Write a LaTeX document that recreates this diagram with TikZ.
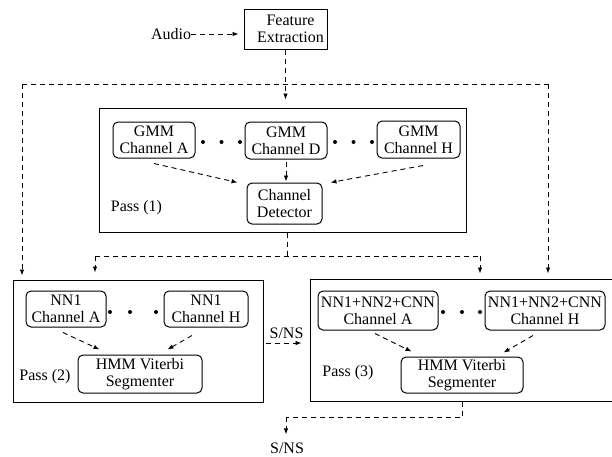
\documentclass[tikz,border=0pt]{standalone}
\usepackage{fontspec}
\setmainfont{Liberation Serif}
\usetikzlibrary{arrows.meta}
\begin{document}
\begin{tikzpicture}[x=1pt,y=-1pt,
  font=\fontsize{16}{17}\selectfont,
  every node/.style={inner sep=0pt, align=center},
  sq/.style={draw, line width=1pt},
  pass/.style={draw, line width=1pt},
  rbox/.style={draw, line width=1pt, rounded corners=5pt},
  dsh/.style={line width=0.9pt, dash pattern=on 5pt off 4pt},
  arr/.style={dsh, -{Latex[length=6pt,width=4.5pt]}},
  dotmark/.style={circle, fill, minimum size=4pt}]
\useasboundingbox (0,0) rectangle (612,456);

% feature extraction stage
\node[sq, minimum width=83pt, minimum height=40pt] (feat) at (285.5,29)
  {\hspace*{10pt}Feature\\\hspace*{10pt}Extraction};
\node (audio) at (171,34) {Audio};

% pass 1: channel detection
\node[pass, minimum width=367pt, minimum height=124pt] (pass1) at (282.5,170) {};
\node[rbox, minimum width=82pt, minimum height=36pt] (gA) at (154,140) {GMM\\Channel A};
\node[rbox, minimum width=82pt, minimum height=37pt] (gD) at (286,140.5) {GMM\\Channel D};
\node[rbox, minimum width=83pt, minimum height=37pt] (gH) at (418.5,139.5) {GMM\\Channel H};
\node[rbox, minimum width=75pt, minimum height=41pt] (det) at (284.5,203.5) {Channel\\Detector};
\node (p1) at (136.5,208) {Pass (1)};
\foreach \x/\n in {203/a,221.5/b,240/c,335/d,353.5/e,372/f}
  \node[dotmark] (d1\n) at (\x,142) {};

% pass 2
\node[pass, minimum width=250pt, minimum height=122pt] (pass2) at (138,341) {};
\node[rbox, minimum width=80pt, minimum height=36pt] (nA) at (66,309) {NN1\\Channel A};
\node[rbox, minimum width=84pt, minimum height=36pt] (nH) at (206,309) {NN1\\Channel H};
\node[rbox, minimum width=124pt, minimum height=38pt] (hmmA) at (140,374) {HMM Viterbi\\Segmenter};
\node (p2) at (45,377) {Pass (2)};
\foreach \x/\n in {110/a,130/b,156/c}
  \node[dotmark] (d2\n) at (\x,312) {};

% pass 3
\node[pass, minimum width=310pt, minimum height=122pt] (pass3) at (465,340) {};
\node[rbox, minimum width=120pt, minimum height=39pt] (cA) at (378,310.5) {NN1+NN2+CNN\\Channel A};
\node[rbox, minimum width=120pt, minimum height=39pt] (cH) at (545,310.5) {NN1+NN2+CNN\\Channel H};
\node[rbox, minimum width=122pt, minimum height=36pt] (hmmB) at (462,375) {HMM Viterbi\\Segmenter};
\node (p3) at (348,373) {Pass (3)};
\foreach \x/\n in {443/a,462/b,480/c}
  \node[dotmark] (d3\n) at (\x,312) {};

% final output
\node (out) at (287,448) {S/NS};

% routing points
\coordinate (jl) at (22,84);
\coordinate (jr) at (548,84);
\coordinate (ml) at (95,256);
\coordinate (mc) at (287,256);
\coordinate (mr) at (480,256);
\coordinate (b1) at (462,417);
\coordinate (b2) at (286,417);

% audio into the feature extractor
\draw[arr, shorten >=5pt] (audio.east) -- (feat.west |- audio.east);
% features fanned out to the three passes
\draw[arr, shorten >=8pt] (feat.south) -- (feat.south |- pass1.north);
\draw[dsh] (jl) -- (jr);
\draw[arr, shorten >=4pt] (jl) -- (jl |- pass2.north);
\draw[arr, shorten >=5pt] (jr) -- (jr |- pass3.north);

% inside pass 1
\draw[arr] ([yshift=-5pt]gA.south) -- ([xshift=-9pt]det.north west);
\draw[arr] ([yshift=-2pt]gD.south) -- ([yshift=1pt]det.north -| gD.south);
\draw[arr] ([xshift=4.5pt,yshift=-7pt]gH.south) -- ([xshift=8pt]det.north east);

% pass 1 result to passes 2 and 3
\draw[dsh] (mc |- pass1.south) -- (mc);
\draw[dsh] (ml) -- (mr);
\draw[arr, shorten >=7pt] (ml) -- (ml |- pass2.north);
\draw[arr, shorten >=5pt] (mr) -- (mr |- pass3.north);

% inside pass 2
\draw[arr] ([xshift=-3pt,yshift=-5pt]nA.south) -- ([xshift=22pt,yshift=5pt]hmmA.north west);
\draw[arr] ([xshift=-14pt,yshift=-8pt]nH.south) -- ([xshift=-35pt,yshift=5pt]hmmA.north east);

% pass 2 to pass 3
\draw[arr, shorten <=2pt, shorten >=8pt] ([yshift=-2pt]pass2.east) -- ([yshift=-2pt]pass2.east -| pass3.west)
  node[midway, above=4pt] (sns) {S/NS};

% inside pass 3
\draw[arr] ([xshift=-3pt,yshift=-3pt]cA.south) -- ([xshift=11pt,yshift=5pt]hmmB.north west);
\draw[arr] ([xshift=-12pt,yshift=-5pt]cH.south) -- ([xshift=-20pt,yshift=4pt]hmmB.north east);

% pass 3 to the output
\draw[dsh] (b1 |- pass3.south) -- (b1) -- (b2);
\draw[arr, shorten >=8pt] (b2) -- (b2 |- out.north);
\end{tikzpicture}
\end{document}
